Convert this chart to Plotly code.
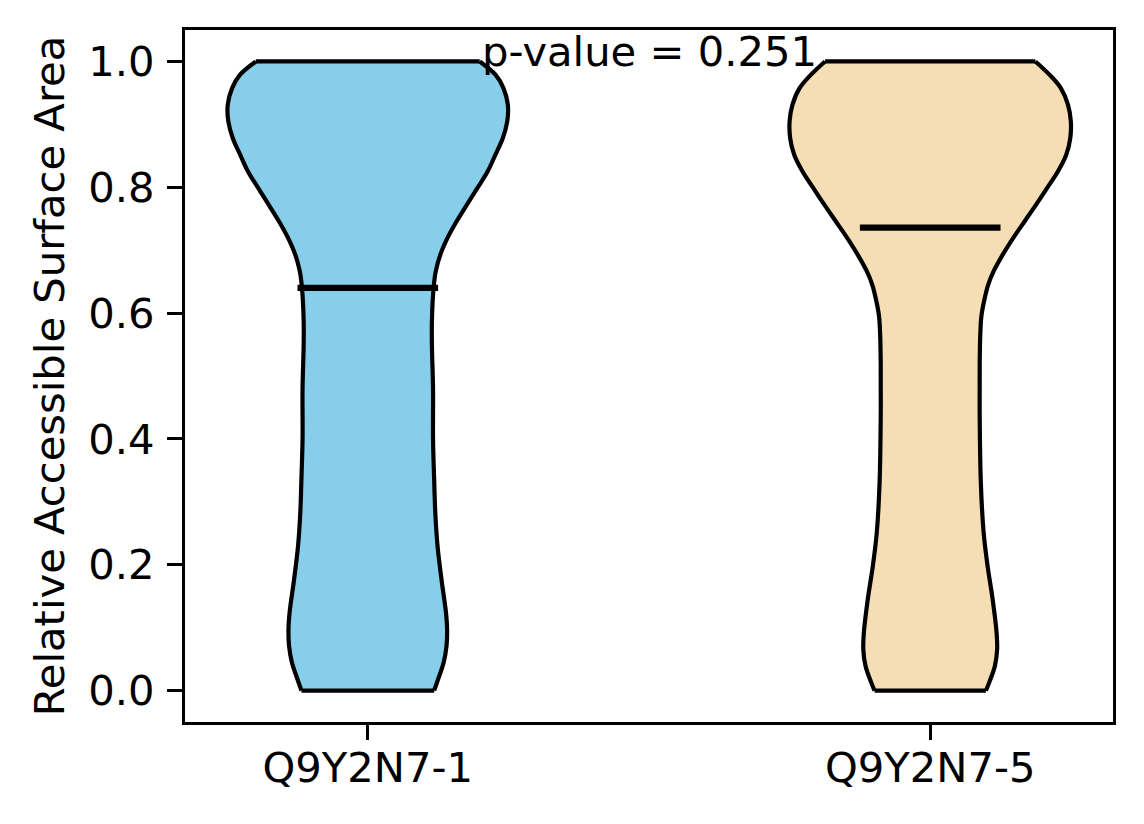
import plotly.graph_objects as go

# categories / positions
names = ["Q9Y2N7-1", "Q9Y2N7-5"]
positions = [1, 2]
colors = ["#87CEEB", "#F5DEB3"]

# violin outlines: y level -> half width (x units)
v1_y = [0.0, 0.018, 0.045, 0.071, 0.098, 0.124, 0.177, 0.230, 0.283, 0.336, 0.40,
        0.48, 0.55, 0.587, 0.640, 0.667, 0.693, 0.720, 0.746, 0.772, 0.799, 0.825,
        0.852, 0.878, 0.905, 0.931, 0.958, 0.979, 1.0]
v1_w = [0.118, 0.125, 0.135, 0.140, 0.141, 0.139, 0.131, 0.124, 0.120, 0.118, 0.116,
        0.116, 0.114, 0.114, 0.117, 0.121, 0.129, 0.142, 0.158, 0.176, 0.195, 0.213,
        0.227, 0.240, 0.248, 0.249, 0.241, 0.227, 0.199]

v2_y = [0.0, 0.013, 0.039, 0.066, 0.092, 0.145, 0.198, 0.251, 0.331, 0.436, 0.520,
        0.565, 0.595, 0.620, 0.645, 0.667, 0.693, 0.720, 0.746, 0.772, 0.799, 0.825,
        0.852, 0.878, 0.905, 0.931, 0.958, 0.979, 1.0]
v2_w = [0.099, 0.105, 0.115, 0.119, 0.118, 0.111, 0.102, 0.095, 0.090, 0.088, 0.088,
        0.089, 0.091, 0.096, 0.103, 0.113, 0.129, 0.148, 0.168, 0.188, 0.208, 0.227,
        0.242, 0.249, 0.250, 0.245, 0.232, 0.212, 0.187]

means = [0.640, 0.736]
p_value = 0.251

FONT = "DejaVu Sans"
FS = 41.7

fig = go.Figure()

for pos, ys, ws, col in zip(positions, [v1_y, v2_y], [v1_w, v2_w], colors):
    # left side
    fig.add_trace(go.Scatter(
        x=[pos - w for w in ws], y=ys, mode="lines",
        line=dict(color="black", width=4.2, shape="spline"),
        hoverinfo="skip", showlegend=False,
    ))
    # right side, filled back to the left side
    fig.add_trace(go.Scatter(
        x=[pos + w for w in ws], y=ys, mode="lines", fill="tonextx", fillcolor=col,
        line=dict(color="black", width=4.2, shape="spline"),
        hoverinfo="skip", showlegend=False,
    ))
    # flat ends at min and max
    fig.add_trace(go.Scatter(
        x=[pos - ws[0], pos + ws[0], None, pos - ws[-1], pos + ws[-1]],
        y=[ys[0], ys[0], None, ys[-1], ys[-1]],
        mode="lines", line=dict(color="black", width=4.2),
        hoverinfo="skip", showlegend=False,
    ))

# mean lines
for pos, m in zip(positions, means):
    fig.add_trace(go.Scatter(
        x=[pos - 0.125, pos + 0.125], y=[m, m], mode="lines",
        line=dict(color="black", width=6.2),
        hoverinfo="skip", showlegend=False,
    ))

fig.add_annotation(
    x=1.5, y=1.016, xref="x", yref="y", text=f"p-value = {p_value}",
    showarrow=False, xanchor="center", yanchor="middle",
    font=dict(family=FONT, size=FS, color="black"),
)

# page body has an 8px margin, so the figure is shrunk by that much
fig.update_layout(
    width=1136, height=816,
    margin=dict(l=177, r=31, t=22, b=102),
    paper_bgcolor="white", plot_bgcolor="white",
    font=dict(family=FONT, size=FS, color="black"),
    showlegend=False,
)
fig.update_xaxes(
    range=[0.675, 2.325], tickvals=positions, ticktext=names,
    showgrid=False, zeroline=False,
    showline=True, mirror=True, linecolor="black", linewidth=3.3,
    ticks="outside", ticklen=15, tickwidth=3.3, tickcolor="black",
    ticklabelstandoff=-8,
)
fig.update_yaxes(
    range=[-0.05, 1.05], tickvals=[0, 0.2, 0.4, 0.6, 0.8, 1.0], tickformat=".1f",
    showgrid=False, zeroline=False,
    showline=True, mirror=True, linecolor="black", linewidth=3.3,
    ticks="outside", ticklen=15, tickwidth=3.3, tickcolor="black",
    ticklabelstandoff=4,
    title=dict(text="Relative Accessible Surface Area", standoff=11,
               font=dict(family=FONT, size=FS, color="black")),
)

fig.write_html("out.html")
